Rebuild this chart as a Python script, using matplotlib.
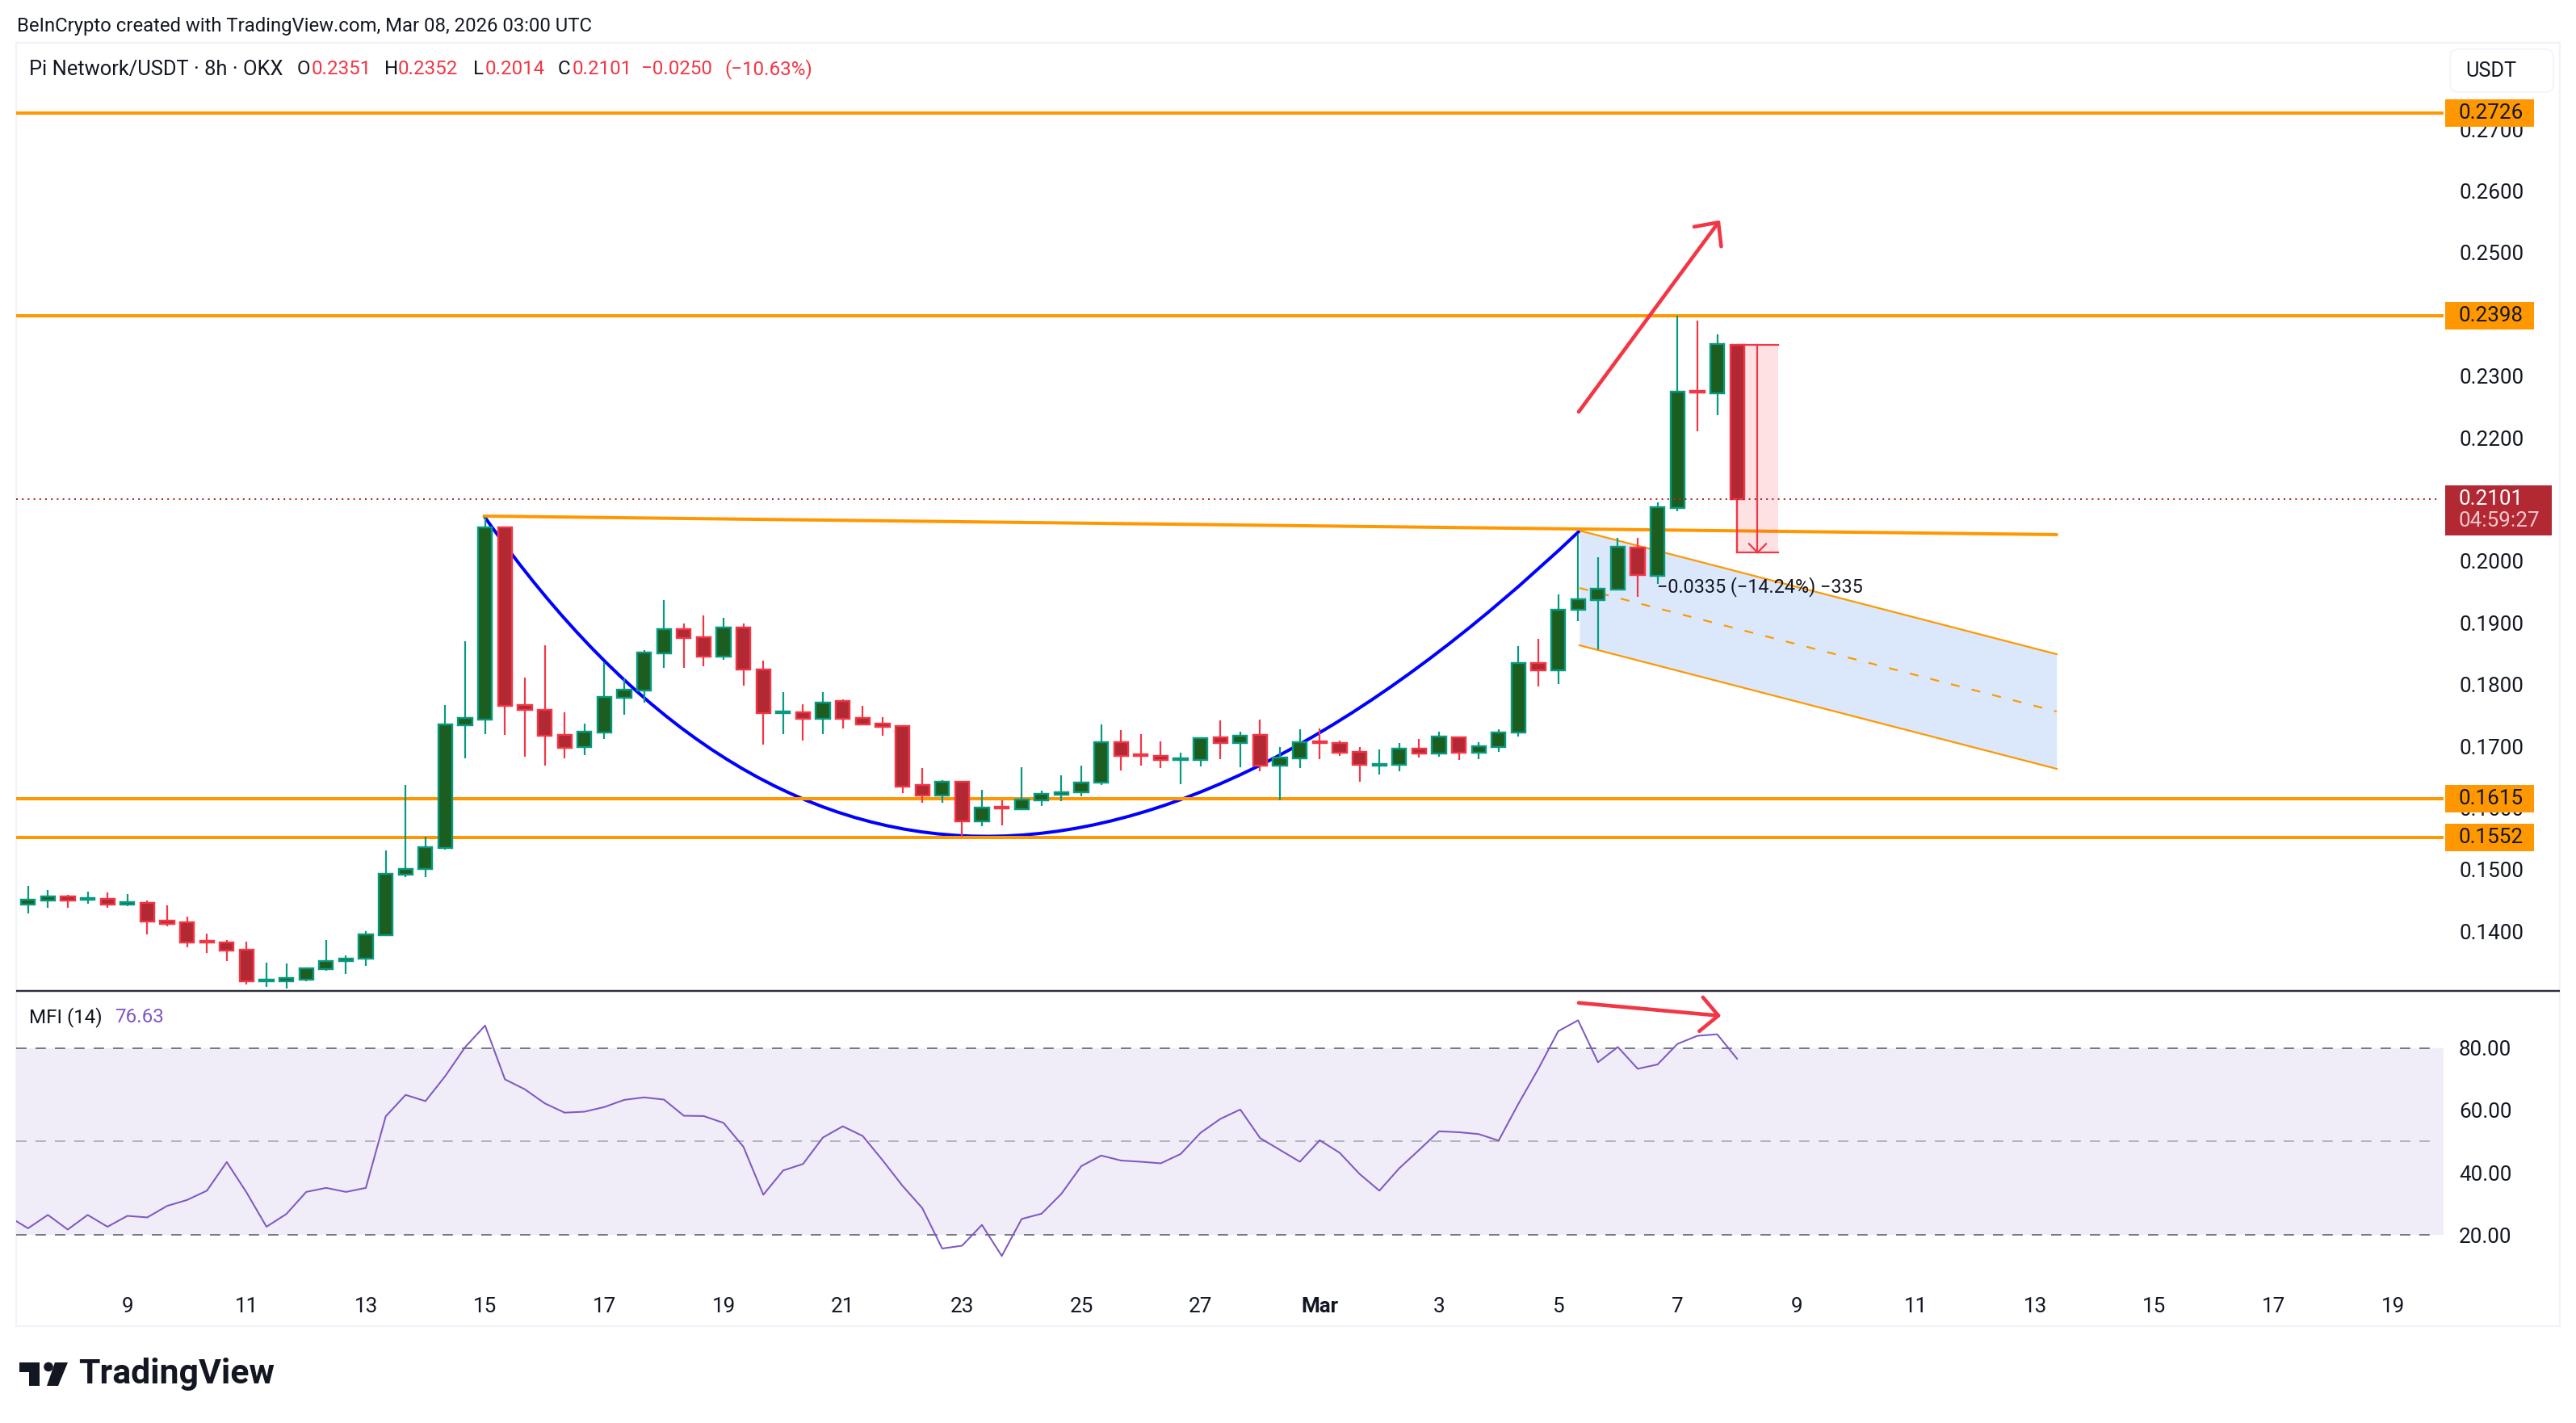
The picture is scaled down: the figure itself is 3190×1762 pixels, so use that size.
# Pi Network/USDT 8h chart with MFI pane
import numpy as np
import matplotlib
matplotlib.use('Agg')
import matplotlib.pyplot as plt
from matplotlib.patches import Rectangle, Circle, Polygon, FancyBboxPatch, PathPatch
from matplotlib.path import Path

plt.rcParams['font.family'] = ['Roboto', 'DejaVu Sans']

# candles (first bar is Feb 7 08:00, one bar every 8h)
opens = [.1444, .1450, .1456, .1451, .1453, .1444, .1446, .1417, .1415, .1385,
         .1382, .1370, .1319, .1319, .1322, .1339, .1352, .1356, .1394, .1492,
         .1501, .1535, .1734, .1743, .2055, .1767, .1759, .1718, .1699, .1722,
         .1779, .1790, .1851, .1890, .1877, .1845, .1892, .1824, .1754, .1755,
         .1745, .1773, .1746, .1737, .1733, .1637, .1620, .1642, .1578, .1602,
         .1598, .1612, .1621, .1625, .1641, .1707, .1687, .1684, .1678, .1678,
         .1714, .1705, .1718, .1668, .1680, .1708, .1705, .1691, .1669, .1670,
         .1696, .1688, .1714, .1690, .1699, .1722, .1835, .1823, .1921, .1937,
         .1954, .2022, .1976, .2086, .2276, .2272, .2351]
highs = [.1474, .1467, .1459, .1464, .1463, .1461, .1450, .1442, .1424, .1396,
         .1386, .1383, .1349, .1348, .1340, .1386, .1361, .1400, .1531, .1637,
         .1553, .1767, .1870, .2072, .2056, .1811, .1864, .1755, .1737, .1836,
         .1810, .1856, .1937, .1899, .1912, .1908, .1899, .1839, .1788, .1768,
         .1788, .1776, .1766, .1747, .1733, .1665, .1645, .1642, .1629, .1612,
         .1666, .1628, .1653, .1669, .1735, .1726, .1720, .1708, .1690, .1714,
         .1742, .1724, .1743, .1699, .1727, .1729, .1709, .1699, .1695, .1705,
         .1712, .1724, .1716, .1707, .1727, .1862, .1874, .1946, .2043, .2006,
         .2038, .2038, .2095, .2398, .2390, .2368, .2352]
lows = [.1429, .1438, .1438, .1445, .1438, .1441, .1395, .1408, .1374, .1365,
        .1352, .1314, .1310, .1307, .1319, .1336, .1331, .1344, .1394, .1488,
        .1488, .1533, .1680, .1720, .1718, .1683, .1669, .1680, .1686, .1712,
        .1751, .1771, .1827, .1827, .1830, .1840, .1798, .1703, .1720, .1709,
        .1720, .1729, .1734, .1717, .1624, .1608, .1608, .1553, .1570, .1572,
        .1598, .1603, .1611, .1619, .1637, .1661, .1669, .1665, .1638, .1667,
        .1679, .1666, .1659, .1612, .1665, .1679, .1684, .1642, .1654, .1659,
        .1682, .1683, .1678, .1679, .1691, .1716, .1797, .1801, .1903, .1857,
        .1954, .1942, .1963, .2081, .2210, .2237, .2014]
closes = [.1451, .1456, .1450, .1454, .1444, .1447, .1416, .1412, .1382, .1382,
          .1369, .1319, .1322, .1324, .1340, .1352, .1356, .1395, .1493, .1501,
          .1536, .1735, .1746, .2055, .1766, .1759, .1717, .1697, .1724, .1780,
          .1792, .1852, .1890, .1875, .1845, .1892, .1824, .1754, .1756, .1745,
          .1771, .1745, .1735, .1731, .1635, .1620, .1642, .1578, .1601, .1599,
          .1614, .1623, .1625, .1641, .1707, .1684, .1684, .1678, .1680, .1713,
          .1705, .1717, .1669, .1682, .1707, .1705, .1690, .1670, .1671, .1696,
          .1688, .1716, .1690, .1700, .1722, .1835, .1823, .1921, .1938, .1955,
          .2023, .1978, .2087, .2275, .2273, .2352, .2101]

# MFI, first value belongs to the bar before the first candle
mfi = [26.0, 22.1, 26.4, 21.7, 26.4, 22.6, 26.1, 25.6, 29.3, 31.2, 34.2, 43.4,
       33.6, 22.6, 26.7, 33.8, 35.1, 33.8, 35.1, 58.1, 65.0, 63.0, 71.1, 80.4,
       87.3, 70.0, 66.8, 62.3, 59.3, 59.6, 61.1, 63.4, 64.2, 63.5, 58.3, 58.2,
       56.0, 48.3, 32.9, 40.7, 42.8, 51.3, 54.9, 51.8, 44.0, 35.8, 28.6, 15.6,
       16.5, 23.2, 13.2, 25.1, 26.8, 33.2, 42.1, 45.5, 43.9, 43.5, 43.0, 46.0,
       52.8, 57.3, 60.3, 51.1, 47.3, 43.5, 50.4, 46.4, 39.6, 34.2, 41.4, 47.3,
       53.3, 53.0, 52.4, 50.3, 62.2, 73.4, 85.5, 89.0, 75.5, 80.4, 73.4, 74.8,
       81.4, 84.0, 84.5, 76.63]

# levels
levels = [0.2726, 0.2398, 0.1615, 0.1552]
last_price = 0.2101
price_ticks = [0.27, 0.26, 0.25, 0.23, 0.22, 0.20, 0.19, 0.18, 0.17, 0.16, 0.15, 0.14]
mfi_ticks = [80, 60, 40, 20]
date_ticks = list(range(5, 120, 6))
date_labels = ['9', '11', '13', '15', '17', '19', '21', '23', '25', '27', 'Mar',
               '3', '5', '7', '9', '11', '13', '15', '17', '19']

# drawings (bar index, price)
neck_x = [22.95, 102.08]
neck_y = [0.2073, 0.2043]
cup_x = [22.95, 45.3, 78.07]
cup_y = [0.2073, 0.1047, 0.2049]
chan_x = [78.07, 102.08]
chan_top = [0.20495, 0.18492]
chan_mid = [0.19565, 0.17563]
chan_bot = [0.18636, 0.16634]
up_x = [78.03, 85.06]
up_y = [0.2242, 0.2549]
up_head_x = [83.84, 85.06, 85.2]
up_head_y = [0.2542, 0.2549, 0.2510]
mfi_arrow_x = [78.03, 85.06]
mfi_arrow_y = [94.6, 90.5]
mfi_head_x = [84.28, 85.06, 84.1]
mfi_head_y = [96.4, 90.5, 85.5]
meas_x = [86, 88.07]
meas_arrow_x = 87.03
meas_y = [0.2351, 0.2014]

W, H = 3190, 1762
LEFT, RIGHT = 20, 3026
GREEN_E, GREEN_F = '#089981', '#1B5E20'
RED_E, RED_F = '#F23645', '#B22833'
ORANGE = '#FF9800'
BLUE = '#0000FF'
PURPLE = '#7E57C2'
INK = '#131722'
PX = 0.72  # points per pixel at dpi 100


def axrect(x0, x1, y_top, y_bot):
    return [x0 / W, 1 - y_bot / H, (x1 - x0) / W, (y_bot - y_top) / H]


def xfrac(x):
    return (x - LEFT) / (RIGHT - LEFT)


fig = plt.figure(figsize=(W / 100, H / 100), dpi=100, facecolor='white')

# page furniture, in pixels of the page
page = fig.add_axes([0, 0, 1, 1], zorder=0)
page.set_xlim(0, W)
page.set_ylim(H, 0)
page.axis('off')
page.add_patch(Rectangle((20, 53), 3150, 1589, fc='white', ec='#F0F3FA', lw=2.4 * PX))
page.plot([20, 3170], [1227, 1227], color='#2A2E39', lw=2.4 * PX, solid_capstyle='butt')
page.add_patch(FancyBboxPatch((3034, 61), 128, 53, boxstyle='round,pad=0,rounding_size=10',
                              fc='white', ec='#F0F3FA', lw=1.6 * PX))
page.text(3053, 88, 'USDT', fontsize=18.2, color=INK, va='center')
# logo
page.add_patch(Polygon([(24, 1687), (48.5, 1687), (48.5, 1716), (36, 1716), (36, 1699), (24, 1699)], fc=INK, ec='none'))
page.add_patch(Circle((60, 1692.5), 5.8, fc=INK, ec='none'))
page.add_patch(Polygon([(68, 1687), (84, 1687), (72, 1716), (58, 1716)], fc=INK, ec='none'))
page.text(97, 1702, 'TradingView', fontsize=30.8, fontweight='bold', color=INK, va='center')

page.text(21, 32, 'BeInCrypto created with TradingView.com, Mar 08, 2026 03:00 UTC',
          fontsize=17.2, color=INK, va='center')
page.text(36.5, 86, 'Pi Network/USDT · 8h · OKX', fontsize=18.4, color=INK, va='center')
for x, s, c in [(368, 'O', INK), (386, '0.2351', RED_E), (476, 'H', INK), (493, '0.2352', RED_E),
                (586, 'L', INK), (601, '0.2014', RED_E), (691, 'C', INK), (709, '0.2101', RED_E),
                (794, '−0.0250', RED_E), (897, '(−10.63%)', RED_E)]:
    page.text(x, 86, s, fontsize=17.4, color=c, va='center')

# price pane
ax = fig.add_axes(axrect(LEFT, RIGHT, 53, 1227), zorder=1)
ax.patch.set_alpha(0)
ax.set_xlim(-0.597, 121.55)
ax.set_ylim(0.13034, 0.28401)
ax.hlines(levels, -0.597, 121.55, color=ORANGE, lw=4 * PX, zorder=2.2)

ax.fill_between(chan_x, chan_bot, chan_top, color='#DBE8FB', lw=0, zorder=1)
ax.plot(chan_x, chan_top, color=ORANGE, lw=2.2 * PX, zorder=2)
ax.plot(chan_x, chan_bot, color=ORANGE, lw=2.2 * PX, zorder=2)
ax.plot(chan_x, chan_mid, color=ORANGE, lw=2.2 * PX, dashes=(5, 7), zorder=2)
ax.plot(neck_x, neck_y, color=ORANGE, lw=4 * PX, zorder=2.2, solid_capstyle='round')
ax.add_patch(PathPatch(Path(list(zip(cup_x, cup_y)), [Path.MOVETO, Path.CURVE3, Path.CURVE3]),
                       fc='none', ec=BLUE, lw=4 * PX, zorder=2))

# measure box behind the candles
ax.add_patch(Rectangle((meas_x[0], meas_y[1]), meas_x[1] - meas_x[0], meas_y[0] - meas_y[1],
                       fc=RED_E, alpha=0.15, ec='none', zorder=2.5))

idx = np.arange(len(opens))
o = np.array(opens)
h = np.array(highs)
l = np.array(lows)
c = np.array(closes)
up = c >= o
ax.vlines(idx[up], l[up], h[up], color=GREEN_E, lw=2.2 * PX, zorder=3)
ax.vlines(idx[~up], l[~up], h[~up], color=RED_E, lw=2.2 * PX, zorder=3)
ax.bar(idx[up], (c - o)[up], bottom=o[up], width=0.70, color=GREEN_F, edgecolor=GREEN_E,
       linewidth=2.4 * PX, zorder=4)
ax.bar(idx[~up], (o - c)[~up], bottom=c[~up], width=0.70, color=RED_F, edgecolor=RED_E,
       linewidth=2.4 * PX, zorder=4)

# measure outline and arrow
ax.plot([meas_x[0], meas_x[1]], [meas_y[0], meas_y[0]], color=RED_E, lw=2.2 * PX, zorder=3)
ax.plot([meas_x[0], meas_x[1]], [meas_y[1], meas_y[1]], color=RED_E, lw=2.2 * PX, zorder=5)
ax.plot([meas_x[0], meas_x[0]], [meas_y[1], last_price], color=RED_E, lw=2.2 * PX, zorder=5)
ax.plot([meas_arrow_x, meas_arrow_x], meas_y, color=RED_E, lw=2.2 * PX, zorder=5)
ax.plot([meas_arrow_x - 0.43, meas_arrow_x, meas_arrow_x + 0.43],
        [meas_y[1] + 0.0014, meas_y[1], meas_y[1] + 0.0014], color=RED_E, lw=2.2 * PX, zorder=5)
ax.text(81.97, 0.1959, '−0.0335 (−14.24%) −335', fontsize=16.8, color=INK, va='center', zorder=6)

# last price line
ax.plot([-0.597, 121.4], [last_price, last_price], color=RED_F, lw=2 * PX, dashes=(1, 2.6), zorder=6)

# hand drawn red arrow
ax.plot(up_x, up_y, color=RED_E, lw=4.6 * PX, zorder=7, solid_capstyle='round')
ax.plot(up_head_x, up_head_y, color=RED_E, lw=4.6 * PX, zorder=7, solid_capstyle='round')

# price axis
ax.yaxis.tick_right()
ax.set_yticks(price_ticks)
ax.set_yticklabels(['%.4f' % p for p in price_ticks], fontsize=18.7, color=INK)
ax.tick_params(axis='y', length=0, pad=13.7)
ax.set_xticks([])
for s in ax.spines.values():
    s.set_visible(False)

tr = ax.get_yaxis_transform()
box_h = 34 / 7640
for p in levels:
    ax.add_patch(Rectangle((xfrac(3028), p - box_h / 2), 110 / 3006, box_h, transform=tr,
                           fc=ORANGE, ec='none', clip_on=False, zorder=8))
    ax.text(xfrac(3045), p, '%.4f' % p, transform=tr, fontsize=18.7, color=INK, va='center',
            clip_on=False, zorder=9)
# current price box
ax.add_patch(Rectangle((xfrac(3028), last_price - 45 / 7640), 132 / 3006, 61.5 / 7640, transform=tr,
                       fc=RED_F, ec='none', clip_on=False, zorder=8))
ax.text(xfrac(3045), last_price, '%.4f' % last_price, transform=tr, fontsize=18.7, color='white',
        va='center', clip_on=False, zorder=9)
ax.text(xfrac(3045), last_price - 27.5 / 7640, '04:59:27', transform=tr, fontsize=18.7, color='#F0C9CD',
        va='center', clip_on=False, zorder=9)

# MFI pane
ax2 = fig.add_axes(axrect(LEFT, RIGHT, 1227, 1600), zorder=2)
ax2.patch.set_alpha(0)
ax2.set_xlim(-0.597, 121.55)
ax2.set_ylim(1.56, 98.44)
ax2.axhspan(20, 80, fc='#F0ECF8', ec='none', zorder=1)
ax2.hlines([80, 20], -0.597, 121.2, color='#787B86', lw=2 * PX, linestyles=[(0, (6.4, 5.6))], zorder=2)
ax2.hlines([50], -0.597, 121.2, color='#B2B5BE', lw=2 * PX, linestyles=[(0, (6.4, 5.6))], zorder=2)
ax2.plot(np.arange(-1, len(mfi) - 1), mfi, color=PURPLE, lw=2 * PX, zorder=3)
ax2.plot(mfi_arrow_x, mfi_arrow_y, color=RED_E, lw=4.6 * PX, zorder=4, solid_capstyle='round')
ax2.plot(mfi_head_x, mfi_head_y, color=RED_E, lw=4.6 * PX, zorder=4, solid_capstyle='round')
page.text(36.5, 1260, 'MFI (14)', fontsize=17.4, color=INK, va='center')
page.text(142.5, 1260, '76.63', fontsize=17.4, color=PURPLE, va='center')

ax2.yaxis.tick_right()
ax2.set_yticks(mfi_ticks)
ax2.set_yticklabels(['%.2f' % v for v in mfi_ticks], fontsize=18.7, color=INK)
ax2.tick_params(axis='y', length=0, pad=13.7)
ax2.set_xticks(date_ticks)
ax2.set_xticklabels(date_labels, fontsize=18.7, color=INK)
ax2.tick_params(axis='x', length=0, pad=4.5)
ax2.get_xticklabels()[10].set_fontweight('bold')
for s in ax2.spines.values():
    s.set_visible(False)

fig.savefig('out.png', dpi=100)
